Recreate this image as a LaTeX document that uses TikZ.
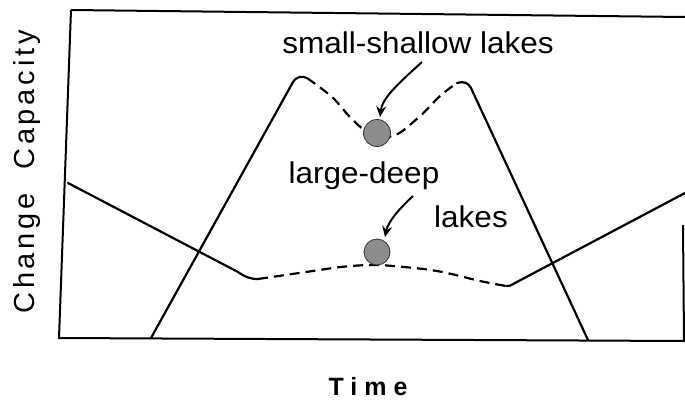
\documentclass[tikz,border=0pt]{standalone}
\usepackage{fontspec}
\setmainfont{Liberation Sans}
\newfontfamily\lakeFont[FakeStretch=1.05]{Liberation Sans}
\newfontfamily\axisFont[LetterSpace=13]{Liberation Sans}
\newfontfamily\timeFont[LetterSpace=28]{Liberation Sans}
\usetikzlibrary{arrows.meta}
\definecolor{LakeGray}{HTML}{8C8C8C}
\tikzset{
  curve/.style={line width=2.2pt,line join=round,line cap=round},
  dashcurve/.style={curve,line cap=butt,dash pattern=on 10pt off 6pt},
  lakedot/.style={fill=LakeGray,draw=black!80,line width=0.8pt},
  pointer/.style={line width=2pt,
    -{Stealth[length=11pt,width=10pt,inset=4pt,fill=LakeGray]}},
  lakelabel/.style={font=\lakeFont\fontsize{30}{36}\selectfont,anchor=base}
}

\begin{document}
\begin{tikzpicture}[x=1pt,y=-1pt]

        \useasboundingbox (0,0) rectangle (685,399);

        % frame (slightly skewed, as scanned)
        \draw[line width=2pt] (71,10) -- (685,17);
        \draw[line width=2pt] (71,10) -- (59,338) -- (684,341) -- (683,225);

        % small-shallow lakes curve
        \draw[curve] (151,338) -- (293,82)
          .. controls (297,76) and (302,76) .. (307,78);
        \draw[dashcurve] plot[smooth,tension=0.6] coordinates
          {(307,78) (332,97) (350,117) (368,132) (393,136) (419,117) (440,96) (457,83)};
        \draw[curve] (457,83) .. controls (465,81) and (468,83) .. (471,88)
          -- (588,340);

        % large-deep lakes curve
        \draw[curve] (68,183) -- (238,272)
          .. controls (245,277) and (250,279) .. (258,279);
        \draw[dashcurve] plot[smooth,tension=0.6] coordinates
          {(258,279) (306,272) (341,267) (370,265) (393,266) (437,271) (480,281) (506,286)};
        \draw[curve] (506,286) .. controls (510,286) .. (515,283) -- (685,193);

        % lakes
        \filldraw[lakedot] (377,133) circle[radius=13.5];
        \filldraw[lakedot] (377,252) circle[radius=13];

        % labels
        \node[lakelabel] (small) at (418,53) {small-shallow lakes};
        \node[lakelabel] (large) at (364,183) {large-deep};
        \node[lakelabel] (lakes) at (471,227) {lakes};

        \coordinate (smallfrom) at (422,62);
        \coordinate (smallto) at (380,117);
        \coordinate (largefrom) at (413,196);
        \coordinate (largeto) at (385,237);

        \draw[pointer] (smallfrom) .. controls (400,82) and (382,98) .. (smallto);
        \draw[pointer] (largefrom) .. controls (398,210) and (388,222) .. (largeto);

        % axes
        \node[rotate=90,font=\axisFont\fontsize{29}{35}\selectfont]
          (capacity) at (27,172) {Change\ \ Capacity};
        \node[anchor=base,font=\timeFont\bfseries\fontsize{25}{30}\selectfont]
          (time) at (368,395) {Time};

      \end{tikzpicture}
\end{document}
